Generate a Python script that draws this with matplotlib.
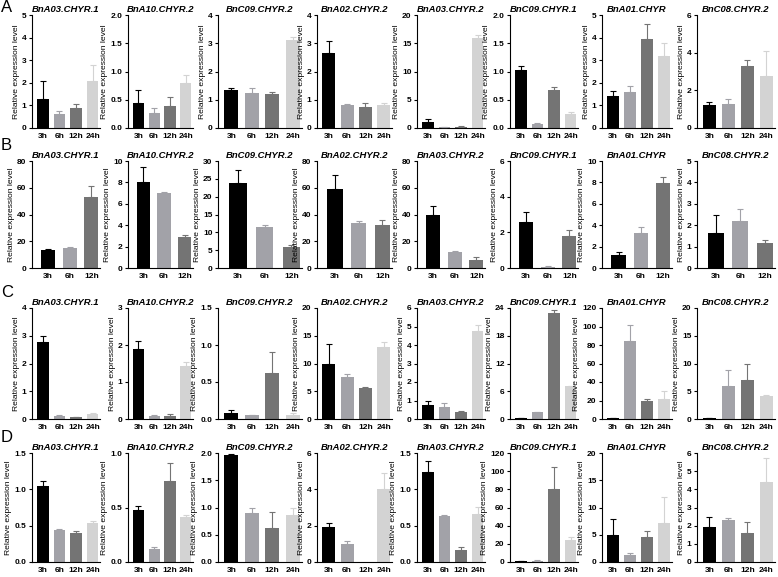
import numpy as np
import matplotlib
matplotlib.use("Agg")
import matplotlib.pyplot as plt

plt.rcParams['font.family'] = ['Liberation Sans', 'DejaVu Sans']

# 基因名称（每行相同）
genes = ['BnA03.CHYR.1', 'BnA10.CHYR.2', 'BnC09.CHYR.2', 'BnA02.CHYR.2',
         'BnA03.CHYR.2', 'BnC09.CHYR.1', 'BnA01.CHYR', 'BnC08.CHYR.2']
times4 = ['3h', '6h', '12h', '24h']
times3 = ['3h', '6h', '12h']
bar_colors = ['#000000', '#a2a2a8', '#747474', '#d3d3d3']

# A 行
mean_A = [[1.3, 0.6, 0.9, 2.1], [0.44, 0.27, 0.39, 0.80], [1.35, 1.25, 1.2, 3.12],
          [2.65, 0.83, 0.75, 0.8], [1.0, 0.15, 0.2, 15.9], [1.03, 0.07, 0.68, 0.24],
          [1.42, 1.6, 3.95, 3.2], [1.2, 1.25, 3.3, 2.75]]
err_A = [[0.8, 0.15, 0.17, 0.7], [0.23, 0.08, 0.15, 0.13], [0.07, 0.17, 0.07, 0.1],
         [0.43, 0.03, 0.15, 0.08], [0.6, 0.1, 0.1, 0.5], [0.07, 0.01, 0.05, 0.05],
         [0.22, 0.27, 0.65, 0.55], [0.18, 0.3, 0.3, 1.35]]
ymax_A = [5, 2.0, 4, 4, 20, 2.0, 5, 6]
ystep_A = [1, 0.5, 1, 1, 5, 0.5, 1, 2]

# B 行
mean_B = [[13.5, 14.8, 53], [8.05, 7.0, 2.9], [23.8, 11.5, 5.8], [59, 34, 32.5],
          [40, 12, 6.3], [2.6, 0.05, 1.8], [1.2, 3.3, 7.9], [1.65, 2.2, 1.18]]
err_B = [[1, 1.2, 8], [1.35, 0.08, 0.2], [3.8, 0.6, 0.6], [10.5, 1.5, 3.5],
         [6, 1, 2], [0.55, 0.05, 0.35], [0.25, 0.5, 0.65], [0.82, 0.58, 0.12]]
ymax_B = [80, 10, 30, 80, 80, 6, 10, 5]
ystep_B = [20, 2, 5, 20, 20, 2, 2, 1]

# C 行
mean_C = [[2.78, 0.1, 0.07, 0.17], [1.9, 0.07, 0.09, 1.43], [0.08, 0.05, 0.62, 0.06],
          [10, 7.5, 5.6, 12.9], [0.75, 0.65, 0.37, 4.75], [0.15, 1.5, 23, 7.1],
          [0.8, 84, 19, 22], [0.1, 6, 7, 4.1]]
err_C = [[0.2, 0.04, 0.02, 0.05], [0.22, 0.03, 0.05, 0.12], [0.04, 0.01, 0.29, 0.02],
         [3.5, 0.6, 0.15, 0.9], [0.25, 0.22, 0.04, 0.32], [0.15, 0.1, 0.6, 0.1],
         [0.5, 18, 2.5, 8.5], [0.1, 2.8, 3, 0.2]]
ymax_C = [4, 3, 1.5, 20, 6, 24, 120, 20]
ystep_C = [1, 1, 0.5, 5, 1, 6, 20, 5]

# D 行
mean_D = [[1.05, 0.44, 0.4, 0.54], [0.48, 0.12, 0.74, 0.41], [1.96, 0.9, 0.63, 0.86],
          [1.95, 1.0, 0, 4.0], [1.24, 0.63, 0.16, 0.66], [0.8, 1.2, 80, 24.5],
          [5, 1.3, 4.6, 7.2], [1.92, 2.3, 1.58, 4.38]]
err_D = [[0.06, 0.02, 0.02, 0.02], [0.03, 0.02, 0.17, 0.02], [0.02, 0.1, 0.28, 0.14],
         [0.2, 0.18, 0, 0.9], [0.15, 0.02, 0.04, 0.1], [0.5, 0.5, 25, 3.5],
         [2.9, 0.4, 1.1, 4.7], [0.55, 0.12, 0.62, 1.35]]
ymax_D = [1.5, 1.0, 2.0, 6, 1.5, 120, 20, 6]
ystep_D = [0.5, 0.5, 0.5, 2, 0.5, 20, 5, 1]

rows = [
    ('A', times4, mean_A, err_A, ymax_A, ystep_A),
    ('B', times3, mean_B, err_B, ymax_B, ystep_B),
    ('C', times4, mean_C, err_C, ymax_C, ystep_C),
    ('D', times4, mean_D, err_D, ymax_D, ystep_D),
]

W, H = 778, 577
fig = plt.figure(figsize=(W / 100, H / 100), dpi=100)

# 像素布局
row_top = [15, 161, 308, 453]
row_bot = [128, 268, 419, 562]
col_left = [32, 128, 218, 317, 417, 510, 602, 697]
col_w = [68, 65, 84, 75, 68, 68, 70, 78]
letter_y = [7.5, 145, 292.5, 437.5]

for r, (letter, times, means, errs, ymaxs, ysteps) in enumerate(rows):
    fig.text(1 / W, 1 - letter_y[r] / H, letter, fontsize=12, va='center', ha='left')
    n = len(times)
    for c in range(8):
        ax = fig.add_axes([col_left[c] / W, 1 - row_bot[r] / H,
                           col_w[c] / W, (row_bot[r] - row_top[r]) / H])
        x = np.arange(n)
        bw = 0.7 if n == 4 else 0.65
        for i in range(n):
            ax.bar(x[i], means[c][i], width=bw, color=bar_colors[i], zorder=2)
            if errs[c][i] > 0:
                ax.errorbar(x[i], means[c][i], yerr=[[0], [errs[c][i]]], fmt='none',
                            ecolor=bar_colors[i], elinewidth=0.8, capsize=2.2,
                            capthick=0.8, zorder=3)
        if n == 4:
            ax.set_xlim(-0.65, 3.45)
        else:
            ax.set_xlim(-0.75, 2.4)
        ax.set_ylim(0, ymaxs[c])
        ticks = np.arange(0, ymaxs[c] + ysteps[c] / 2, ysteps[c])
        ax.set_yticks(ticks)
        if ysteps[c] < 1:
            ax.set_yticklabels([f'{t:.1f}' for t in ticks])
        else:
            ax.set_yticklabels([f'{int(round(t))}' for t in ticks])
        ax.set_xticks(x)
        ax.set_xticklabels(times)
        for lab in ax.get_xticklabels() + ax.get_yticklabels():
            lab.set_fontweight('bold')
            lab.set_fontsize(6)
        ax.tick_params(axis='both', length=2.5, width=0.8, pad=1.5)
        ax.tick_params(axis='x', length=0, pad=3.5)
        for s in ['top', 'right']:
            ax.spines[s].set_visible(False)
        for s in ['left', 'bottom']:
            ax.spines[s].set_linewidth(0.8)
        ax.set_ylabel('Relative expression level', fontsize=6.1, labelpad=1.5)
        ax.set_title(genes[c], fontsize=6.8, fontweight='bold', fontstyle='italic', pad=2)

fig.savefig('out.png', dpi=100)
